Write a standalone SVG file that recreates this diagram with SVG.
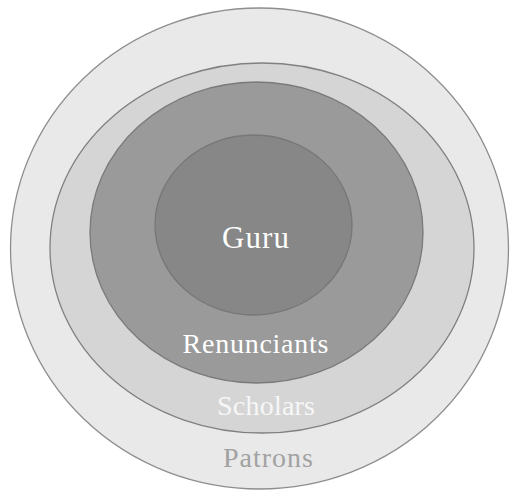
<svg xmlns="http://www.w3.org/2000/svg" width="510" height="493" viewBox="0 0 510 493">
  <style>
    .ring { stroke-width: 1.3; }
    .lbl { font-family: "Liberation Serif", "DejaVu Serif", serif; text-anchor: middle; }
  </style>
  <rect width="510" height="493" fill="#ffffff"/>
  <g id="patrons">
    <ellipse class="ring" cx="259.5" cy="248.5" rx="249" ry="240.5" fill="#e9e9e9" stroke="#8e8e8e"/>
    <text class="lbl" x="268" y="467" font-size="28" fill="#a2a2a2" textLength="90">Patrons</text>
  </g>
  <g id="scholars">
    <ellipse class="ring" cx="262" cy="248" rx="212" ry="185" fill="#d5d5d5" stroke="#808080"/>
    <text class="lbl" x="266" y="415" font-size="28" fill="#f7f7f7" textLength="98">Scholars</text>
  </g>
  <g id="renunciants">
    <ellipse class="ring" cx="256.5" cy="232.5" rx="166.5" ry="150.5" fill="#9a9a9a" stroke="#7a7a7a"/>
    <text class="lbl" x="255.5" y="353" font-size="28" fill="#ffffff" textLength="146">Renunciants</text>
  </g>
  <g id="guru">
    <ellipse class="ring" cx="253.5" cy="225" rx="98.5" ry="90" fill="#878787" stroke="#777777"/>
    <text class="lbl" x="255.5" y="248" font-size="31" fill="#ffffff" textLength="67">Guru</text>
  </g>
</svg>
